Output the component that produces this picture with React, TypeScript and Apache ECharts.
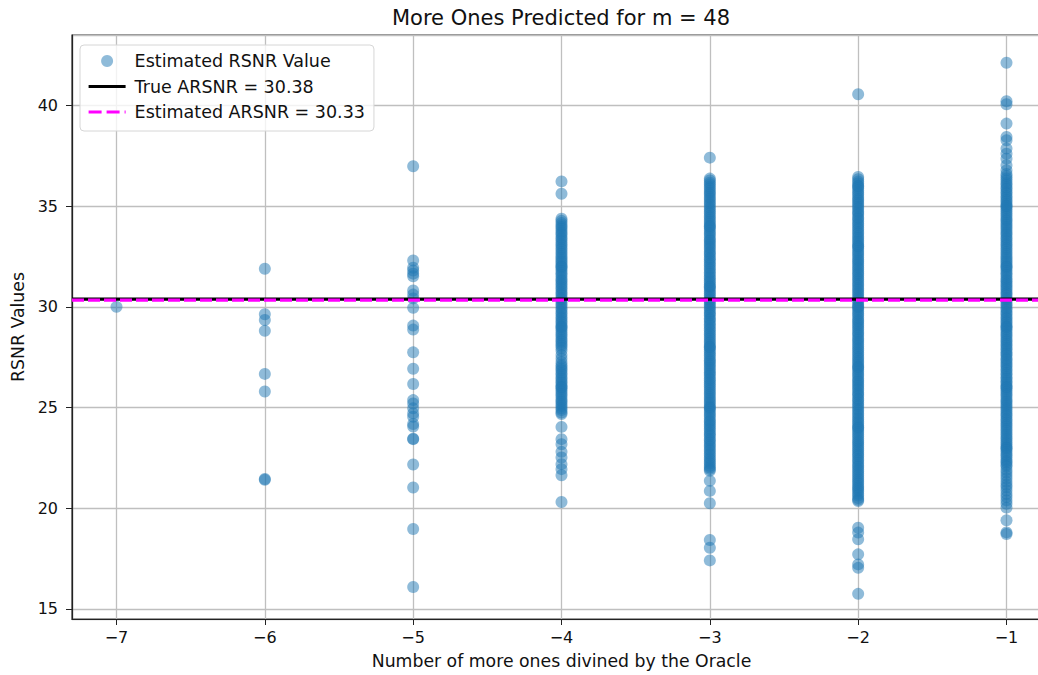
import React, { useEffect, useRef } from "react";
import * as echarts from "echarts";

const chartTitle = "More Ones Predicted for m = 48";
const xAxisTitle = "Number of more ones divined by the Oracle";
const yAxisTitle = "RSNR Values";
const xLimits = [-7.3, -0.7];
const yLimits = [14.5, 43.5];
const trueArsnr = 30.38;
const estArsnr = 30.33;

// RSNR values per x position (number of more ones divined by the Oracle)
const rsnrAtM7 = [30.0];
const rsnrAtM6 = [31.89, 29.63, 29.35, 28.81, 26.67, 25.8, 21.41, 21.45];
const rsnrAtM5 = [
  36.98, 32.3, 31.94, 31.8, 31.65, 31.52, 30.81, 30.61, 30.42, 29.95, 29.07, 28.87, 27.74, 26.93,
  26.17, 25.37, 25.2, 24.96, 24.71, 24.54, 24.18, 24.06, 23.43, 23.45, 22.17, 21.03, 18.97, 16.09,
];
const rsnrAtM4 = [
  36.23, 35.62,
  34.38, 34.27, 34.16, 34.05,
  33.96, 33.87, 33.75, 33.66, 33.57, 33.44, 33.36, 33.25, 33.14, 33.05,
  32.93, 32.84, 32.72, 32.63, 32.51, 32.42, 32.31, 32.22, 32.11, 32.02,
  31.98, 31.89, 31.78, 31.67, 31.58, 31.46, 31.35, 31.27, 31.16, 31.07,
  30.96, 30.87, 30.75, 30.66, 30.57, 30.44, 30.36, 30.25, 30.14, 30.05,
  29.93, 29.84, 29.72, 29.63, 29.51, 29.42, 29.31, 29.22, 29.11, 29.02,
  28.98, 28.89, 28.78, 28.67, 28.58, 28.46, 28.35, 28.27, 28.16, 28.07,
  27.96, 27.82, 27.61, 27.44, 27.26, 27.12, 27.03,
  26.93, 26.84, 26.72, 26.63, 26.51, 26.42, 26.31, 26.22, 26.11, 26.02,
  25.98, 25.89, 25.78, 25.67, 25.58, 25.46, 25.35, 25.27, 25.16, 25.07,
  24.96, 24.87, 24.75, 24.68,
  24.04, 23.43, 23.18, 22.8, 22.52, 22.19, 21.94, 21.64, 20.31,
];
const rsnrAtM3 = [
  37.41,
  36.37, 36.28, 36.16, 36.07,
  35.96, 35.87, 35.75, 35.66, 35.57, 35.44, 35.36, 35.25, 35.14, 35.05,
  34.93, 34.84, 34.72, 34.63, 34.51, 34.42, 34.31, 34.22, 34.11, 34.02,
  33.98, 33.89, 33.78, 33.67, 33.58, 33.46, 33.35, 33.27, 33.16, 33.07,
  32.96, 32.87, 32.75, 32.66, 32.57, 32.44, 32.36, 32.25, 32.14, 32.05,
  31.93, 31.84, 31.72, 31.63, 31.51, 31.42, 31.31, 31.22, 31.11, 31.02,
  30.98, 30.89, 30.78, 30.67, 30.58, 30.46, 30.35, 30.27, 30.16, 30.07,
  29.96, 29.87, 29.75, 29.66, 29.57, 29.44, 29.36, 29.25, 29.14, 29.05,
  28.93, 28.84, 28.72, 28.63, 28.51, 28.42, 28.31, 28.22, 28.11, 28.02,
  27.98, 27.89, 27.78, 27.67, 27.58, 27.46, 27.35, 27.27, 27.16, 27.07,
  26.96, 26.87, 26.75, 26.66, 26.57, 26.44, 26.36, 26.25, 26.14, 26.05,
  25.93, 25.84, 25.72, 25.63, 25.51, 25.42, 25.31, 25.22, 25.11, 25.02,
  24.98, 24.89, 24.78, 24.67, 24.58, 24.46, 24.35, 24.27, 24.16, 24.07,
  23.96, 23.87, 23.75, 23.66, 23.57, 23.44, 23.36, 23.25, 23.14, 23.05,
  22.93, 22.84, 22.72, 22.63, 22.51, 22.42, 22.31, 22.22, 22.11, 22.02,
  21.94, 21.86,
  21.36, 20.86, 20.25, 18.42, 18.04, 17.41,
];
const rsnrAtM2 = [
  40.56,
  36.45, 36.34, 36.22, 36.13, 36.02,
  35.98, 35.89, 35.78, 35.67, 35.58, 35.46, 35.35, 35.27, 35.16, 35.07,
  34.96, 34.87, 34.75, 34.66, 34.57, 34.44, 34.36, 34.25, 34.14, 34.05,
  33.93, 33.84, 33.72, 33.63, 33.51, 33.42, 33.31, 33.22, 33.11, 33.02,
  32.98, 32.89, 32.78, 32.67, 32.58, 32.46, 32.35, 32.27, 32.16, 32.07,
  31.96, 31.87, 31.75, 31.66, 31.57, 31.44, 31.36, 31.25, 31.14, 31.05,
  30.93, 30.84, 30.72, 30.63, 30.51, 30.42, 30.31, 30.22, 30.11, 30.02,
  29.98, 29.89, 29.78, 29.67, 29.58, 29.46, 29.35, 29.27, 29.16, 29.07,
  28.96, 28.87, 28.75, 28.66, 28.57, 28.44, 28.36, 28.25, 28.14, 28.05,
  27.93, 27.84, 27.72, 27.63, 27.51, 27.42, 27.31, 27.22, 27.11, 27.02,
  26.98, 26.89, 26.78, 26.67, 26.58, 26.46, 26.35, 26.27, 26.16, 26.07,
  25.96, 25.87, 25.75, 25.66, 25.57, 25.44, 25.36, 25.25, 25.14, 25.05,
  24.93, 24.84, 24.72, 24.63, 24.51, 24.42, 24.31, 24.22, 24.11, 24.02,
  23.98, 23.89, 23.78, 23.67, 23.58, 23.46, 23.35, 23.27, 23.16, 23.07,
  22.96, 22.87, 22.75, 22.66, 22.57, 22.44, 22.36, 22.25, 22.14, 22.05,
  21.93, 21.84, 21.72, 21.63, 21.51, 21.42, 21.31, 21.22, 21.11, 21.02,
  20.93, 20.84, 20.72, 20.63, 20.51, 20.42, 20.36,
  19.03, 18.79, 18.46, 17.71, 17.21, 17.04, 15.75,
];
const rsnrAtM1 = [
  42.12, 40.21, 40.06, 39.1, 38.44, 38.27, 37.86, 37.6, 37.36, 37.03, 36.78, 36.6,
  36.48, 36.37, 36.26, 36.14, 36.05,
  35.93, 35.84, 35.72, 35.63, 35.51, 35.42, 35.31, 35.22, 35.11, 35.02,
  34.98, 34.89, 34.78, 34.67, 34.58, 34.46, 34.35, 34.27, 34.16, 34.07,
  33.96, 33.87, 33.75, 33.66, 33.57, 33.44, 33.36, 33.25, 33.14, 33.05,
  32.93, 32.84, 32.72, 32.63, 32.51, 32.42, 32.31, 32.22, 32.11, 32.02,
  31.98, 31.89, 31.78, 31.67, 31.58, 31.46, 31.35, 31.27, 31.16, 31.07,
  30.96, 30.87, 30.75, 30.66, 30.57, 30.44, 30.36, 30.25, 30.14, 30.05,
  29.93, 29.84, 29.72, 29.63, 29.51, 29.42, 29.31, 29.22, 29.11, 29.02,
  28.98, 28.89, 28.78, 28.67, 28.58, 28.46, 28.35, 28.27, 28.16, 28.07,
  27.96, 27.87, 27.75, 27.66, 27.57, 27.44, 27.36, 27.25, 27.14, 27.05,
  26.93, 26.84, 26.72, 26.63, 26.51, 26.42, 26.31, 26.22, 26.11, 26.02,
  25.98, 25.89, 25.78, 25.67, 25.58, 25.46, 25.35, 25.27, 25.16, 25.07,
  24.96, 24.87, 24.75, 24.66, 24.57, 24.44, 24.36, 24.25, 24.14, 24.05,
  23.93, 23.84, 23.72, 23.63, 23.51, 23.42, 23.31, 23.22, 23.11, 23.02,
  22.98, 22.89, 22.78, 22.67, 22.58, 22.46, 22.35, 22.27, 22.16, 22.07,
  21.91, 21.77, 21.62, 21.48, 21.31, 21.17, 21.04,
  20.88, 20.71, 20.56, 20.39, 20.22, 20.03,
  19.4, 18.8, 18.72,
];

const columns: [number, number[]][] = [
  [-7, rsnrAtM7],
  [-6, rsnrAtM6],
  [-5, rsnrAtM5],
  [-4, rsnrAtM4],
  [-3, rsnrAtM3],
  [-2, rsnrAtM2],
  [-1, rsnrAtM1],
];

const scatterName = "Estimated RSNR Value";
const trueName = `True ARSNR = ${trueArsnr.toFixed(2)}`;
const estName = `Estimated ARSNR = ${estArsnr.toFixed(2)}`;

const FONT = "DejaVu Sans";
const minusFmt = (v: number) => (v < 0 ? "\u2212" + Math.abs(v) : String(v));

export default function App() {
  const ref = useRef<HTMLDivElement>(null);
  useEffect(() => {
    if (!ref.current) return;
    const chart = echarts.init(ref.current, undefined, { renderer: "svg" });
    const scatterData: number[][] = [];
    columns.forEach(([x, ys]) => ys.forEach((y) => scatterData.push([x, y])));
    const option: any = {
      animation: false,
      textStyle: { fontFamily: FONT },
      grid: {
        left: 72,
        top: 35,
        width: 979,
        height: 584,
        show: true,
        borderColor: "#222",
        borderWidth: 1.2,
      },
      graphic: [
        {
          type: "text",
          x: 561,
          y: 18,
          style: {
            text: chartTitle,
            fontFamily: FONT,
            fontSize: 21,
            fill: "#111",
            textAlign: "center",
            textVerticalAlign: "middle",
          },
        },
      ],
      legend: {
        left: 80,
        top: 45,
        orient: "vertical",
        data: [
          { name: scatterName, icon: "circle" },
          {
            name: trueName,
            itemStyle: { opacity: 0, borderWidth: 0 },
            lineStyle: { width: 3.2, color: "#000" },
          },
          {
            name: estName,
            itemStyle: { opacity: 0, borderWidth: 0 },
            lineStyle: { width: 3.2, color: "#ff00ff", type: [13, 5] },
          },
        ],
        itemWidth: 37,
        itemHeight: 12,
        itemGap: 7.5,
        padding: [7, 9, 10, 7],
        backgroundColor: "rgba(255,255,255,0.8)",
        borderColor: "#d6d6d6",
        borderWidth: 1,
        borderRadius: 4,
        textStyle: { fontFamily: FONT, fontSize: 17.5, color: "#111", padding: [0, 0, 0, 4] },
      },
      xAxis: {
        type: "value",
        min: xLimits[0],
        max: xLimits[1],
        name: xAxisTitle,
        nameLocation: "middle",
        nameGap: 33,
        nameTextStyle: { fontFamily: FONT, fontSize: 17.3, color: "#111" },
        axisLine: { show: true, onZero: false, lineStyle: { color: "#222", width: 1.2 } },
        axisTick: { show: true, length: 6, lineStyle: { color: "#222", width: 1 } },
        axisLabel: {
          fontFamily: FONT,
          fontSize: 16,
          color: "#111",
          margin: 10,
          showMinLabel: false,
          showMaxLabel: false,
          formatter: minusFmt,
        },
        splitLine: { show: true, lineStyle: { color: "#bfbfbf", width: 1.3 } },
      },
      yAxis: {
        type: "value",
        min: yLimits[0],
        max: yLimits[1],
        splitNumber: 5,
        name: yAxisTitle,
        nameLocation: "middle",
        nameGap: 42,
        nameTextStyle: { fontFamily: FONT, fontSize: 17.3, color: "#111" },
        axisLine: { show: true, onZero: false, lineStyle: { color: "#222", width: 1.2 } },
        axisTick: { show: true, length: 6, lineStyle: { color: "#222", width: 1 } },
        axisLabel: {
          fontFamily: FONT,
          fontSize: 16,
          color: "#111",
          margin: 14,
          showMinLabel: false,
          showMaxLabel: false,
        },
        splitLine: { show: true, lineStyle: { color: "#bfbfbf", width: 1.3 } },
      },
      series: [
        {
          name: scatterName,
          type: "scatter",
          data: scatterData,
          symbol: "circle",
          symbolSize: 12,
          itemStyle: { color: "#1f77b4", opacity: 0.5 },
          silent: true,
          z: 2,
        },
        {
          name: trueName,
          type: "line",
          data: [
            [xLimits[0], trueArsnr],
            [xLimits[1], trueArsnr],
          ],
          symbol: "none",
          lineStyle: { color: "#000", width: 3.2 },
          itemStyle: { color: "#000" },
          silent: true,
          z: 3,
        },
        {
          name: estName,
          type: "line",
          data: [
            [xLimits[0], estArsnr],
            [xLimits[1], estArsnr],
          ],
          symbol: "none",
          lineStyle: { color: "#ff00ff", width: 3.2, type: [12, 4] },
          itemStyle: { color: "#ff00ff" },
          silent: true,
          z: 4,
        },
      ],
    };
    chart.setOption(option);
    return () => chart.dispose();
  }, []);
  return (
    <div
      ref={ref}
      style={{ position: "fixed", left: 0, top: 0, width: 1060, height: 675, background: "#fff" }}
    />
  );
}
